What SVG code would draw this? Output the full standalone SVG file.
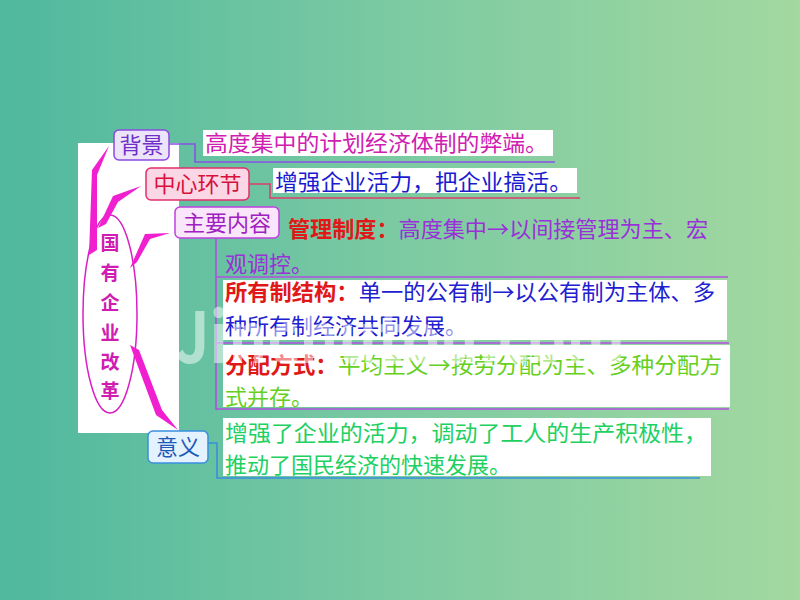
<svg xmlns="http://www.w3.org/2000/svg" width="800" height="600" viewBox="0 0 800 600">
<defs>
<linearGradient id="bg" x1="0" y1="0" x2="1" y2="0">
<stop offset="0" stop-color="#4fb89e"/>
<stop offset="0.5" stop-color="#7ccaa2"/>
<stop offset="1" stop-color="#a3d8a0"/>
</linearGradient>
<style>
text{font-family:"Noto Sans CJK SC","Liberation Sans",sans-serif;}
.lbl{font-size:22px;text-anchor:middle;}
.body{font-size:22px;}
.bold{font-weight:bold;}
.spike{fill:#f020d0;}
.conn{fill:none;stroke-width:1.6;}
</style>
</defs>
<rect x="0" y="0" width="800" height="600" fill="url(#bg)"/>

<!-- left white panel with title ellipse -->
<g id="title">
<rect x="78" y="143" width="101" height="290" fill="#ffffff"/>
<ellipse cx="110" cy="314" rx="27" ry="99" fill="#ffffff" stroke="#d820c4" stroke-width="1.5"/>
<g fill="#d01cb0" font-size="19" text-anchor="middle" font-weight="bold">
<text x="110" y="250">国</text>
<text x="110" y="280">有</text>
<text x="110" y="310">企</text>
<text x="110" y="340">业</text>
<text x="110" y="369">改</text>
<text x="110" y="398">革</text>
</g>
</g>

<g id="connectors">
<polygon class="spike" points="89,255 92,170 109,146 97,175 97,250"/>
<polygon class="spike" points="98,228 113,196 141,186 118,202 106,224"/>
<polygon class="spike" points="130,268 145,234 170,233 150,239 137,262"/>
<polygon class="spike" points="130,345 139,350 162,410 178,430 156,415"/>
<path class="conn" stroke="#8a50e6" d="M169,144 H195 V162 H555"/>
<path class="conn" stroke="#e03c6c" d="M249,184 H270 V198 H580"/>
<path class="conn" stroke="#b050e0" d="M216,238 V410"/>
<path class="conn" stroke="#b050e0" stroke-width="2" d="M216,277 H728"/>
<path class="conn" stroke="#b050e0" stroke-width="2" d="M216,343 H729"/>
<path class="conn" stroke="#b050e0" stroke-width="2.5" d="M216,409 H729"/>
<path class="conn" stroke="#3a8ee0" d="M208,443 H217 V478 H700"/>
</g>

<g id="beijing">
<rect x="114" y="130" width="55" height="30" rx="5" fill="#ece4fb" stroke="#8a4ae0" stroke-width="1.5"/>
<text class="lbl" x="141.5" y="153" fill="#7030c8">背景</text>
<rect x="203" y="130" width="350" height="26" fill="#ffffff"/>
<text class="body" x="205" y="151" fill="#d020b0" font-size="23" textLength="343" lengthAdjust="spacingAndGlyphs">高度集中的计划经济体制的弊端。</text>
</g>

<g id="zhongxin">
<rect x="146" y="168" width="103" height="32" rx="5" fill="#fbd6e4" stroke="#e0306a" stroke-width="1.5"/>
<text class="lbl" x="197.5" y="192" fill="#d8103c">中心环节</text>
<rect x="273" y="168" width="304" height="25" fill="#ffffff"/>
<text class="body" x="275" y="190" fill="#1a1ad0" font-size="24" textLength="297" lengthAdjust="spacingAndGlyphs">增强企业活力，把企业搞活。</text>
</g>

<g id="zhuyao">
<rect x="175" y="207" width="104" height="31" rx="5" fill="#fae6fa" stroke="#c040e0" stroke-width="1.5"/>
<text class="lbl" x="227" y="230.5" fill="#a020c0">主要内容</text>
<text class="body" x="288" y="236.5" textLength="420" lengthAdjust="spacingAndGlyphs"><tspan fill="#e01818" font-weight="bold">管理制度：</tspan><tspan fill="#9a30d8">高度集中→以间接管理为主、宏</tspan></text>
<text class="body" x="225" y="271.5" fill="#9a30d8">观调控。</text>
</g>

<g id="suoyouzhi">
<rect x="223" y="280" width="504" height="60" fill="#ffffff"/>
<text class="body" x="225" y="300" textLength="490" lengthAdjust="spacingAndGlyphs"><tspan fill="#e01818" font-weight="bold">所有制结构：</tspan><tspan fill="#2020d0">单一的公有制→以公有制为主体、多</tspan></text>
<text class="body" x="225" y="334" fill="#2020d0">种所有制经济共同发展。</text>
</g>

<g id="fenpei">
<rect x="223" y="345" width="507" height="62" fill="#ffffff"/>
<text class="body" x="225" y="373" textLength="497" lengthAdjust="spacingAndGlyphs"><tspan fill="#e01818" font-weight="bold">分配方式：</tspan><tspan fill="#66d020">平均主义→按劳分配为主、多种分配方</tspan></text>
<text class="body" x="225" y="405" fill="#66d020">式并存。</text>
</g>

<g id="yiyi">
<rect x="148" y="431" width="60" height="32" rx="5" fill="#e4f2ff" stroke="#3a8ee0" stroke-width="1.5"/>
<text class="lbl" x="178" y="455" fill="#2058b8">意义</text>
<rect x="223" y="418" width="488" height="58" fill="#ffffff"/>
<text class="body" x="225" y="441" fill="#20d060" font-size="23" textLength="482" lengthAdjust="spacingAndGlyphs">增强了企业的活力，调动了工人的生产积极性，</text>
<text class="body" x="225" y="473" fill="#20d060" font-size="23">推动了国民经济的快速发展。</text>
</g>

<text x="400" y="363" font-family="Liberation Sans" font-size="70" font-weight="bold" text-anchor="middle" fill="#ffffff" fill-opacity="0.5" textLength="450" lengthAdjust="spacingAndGlyphs">Jinchutou.com</text>
</svg>
